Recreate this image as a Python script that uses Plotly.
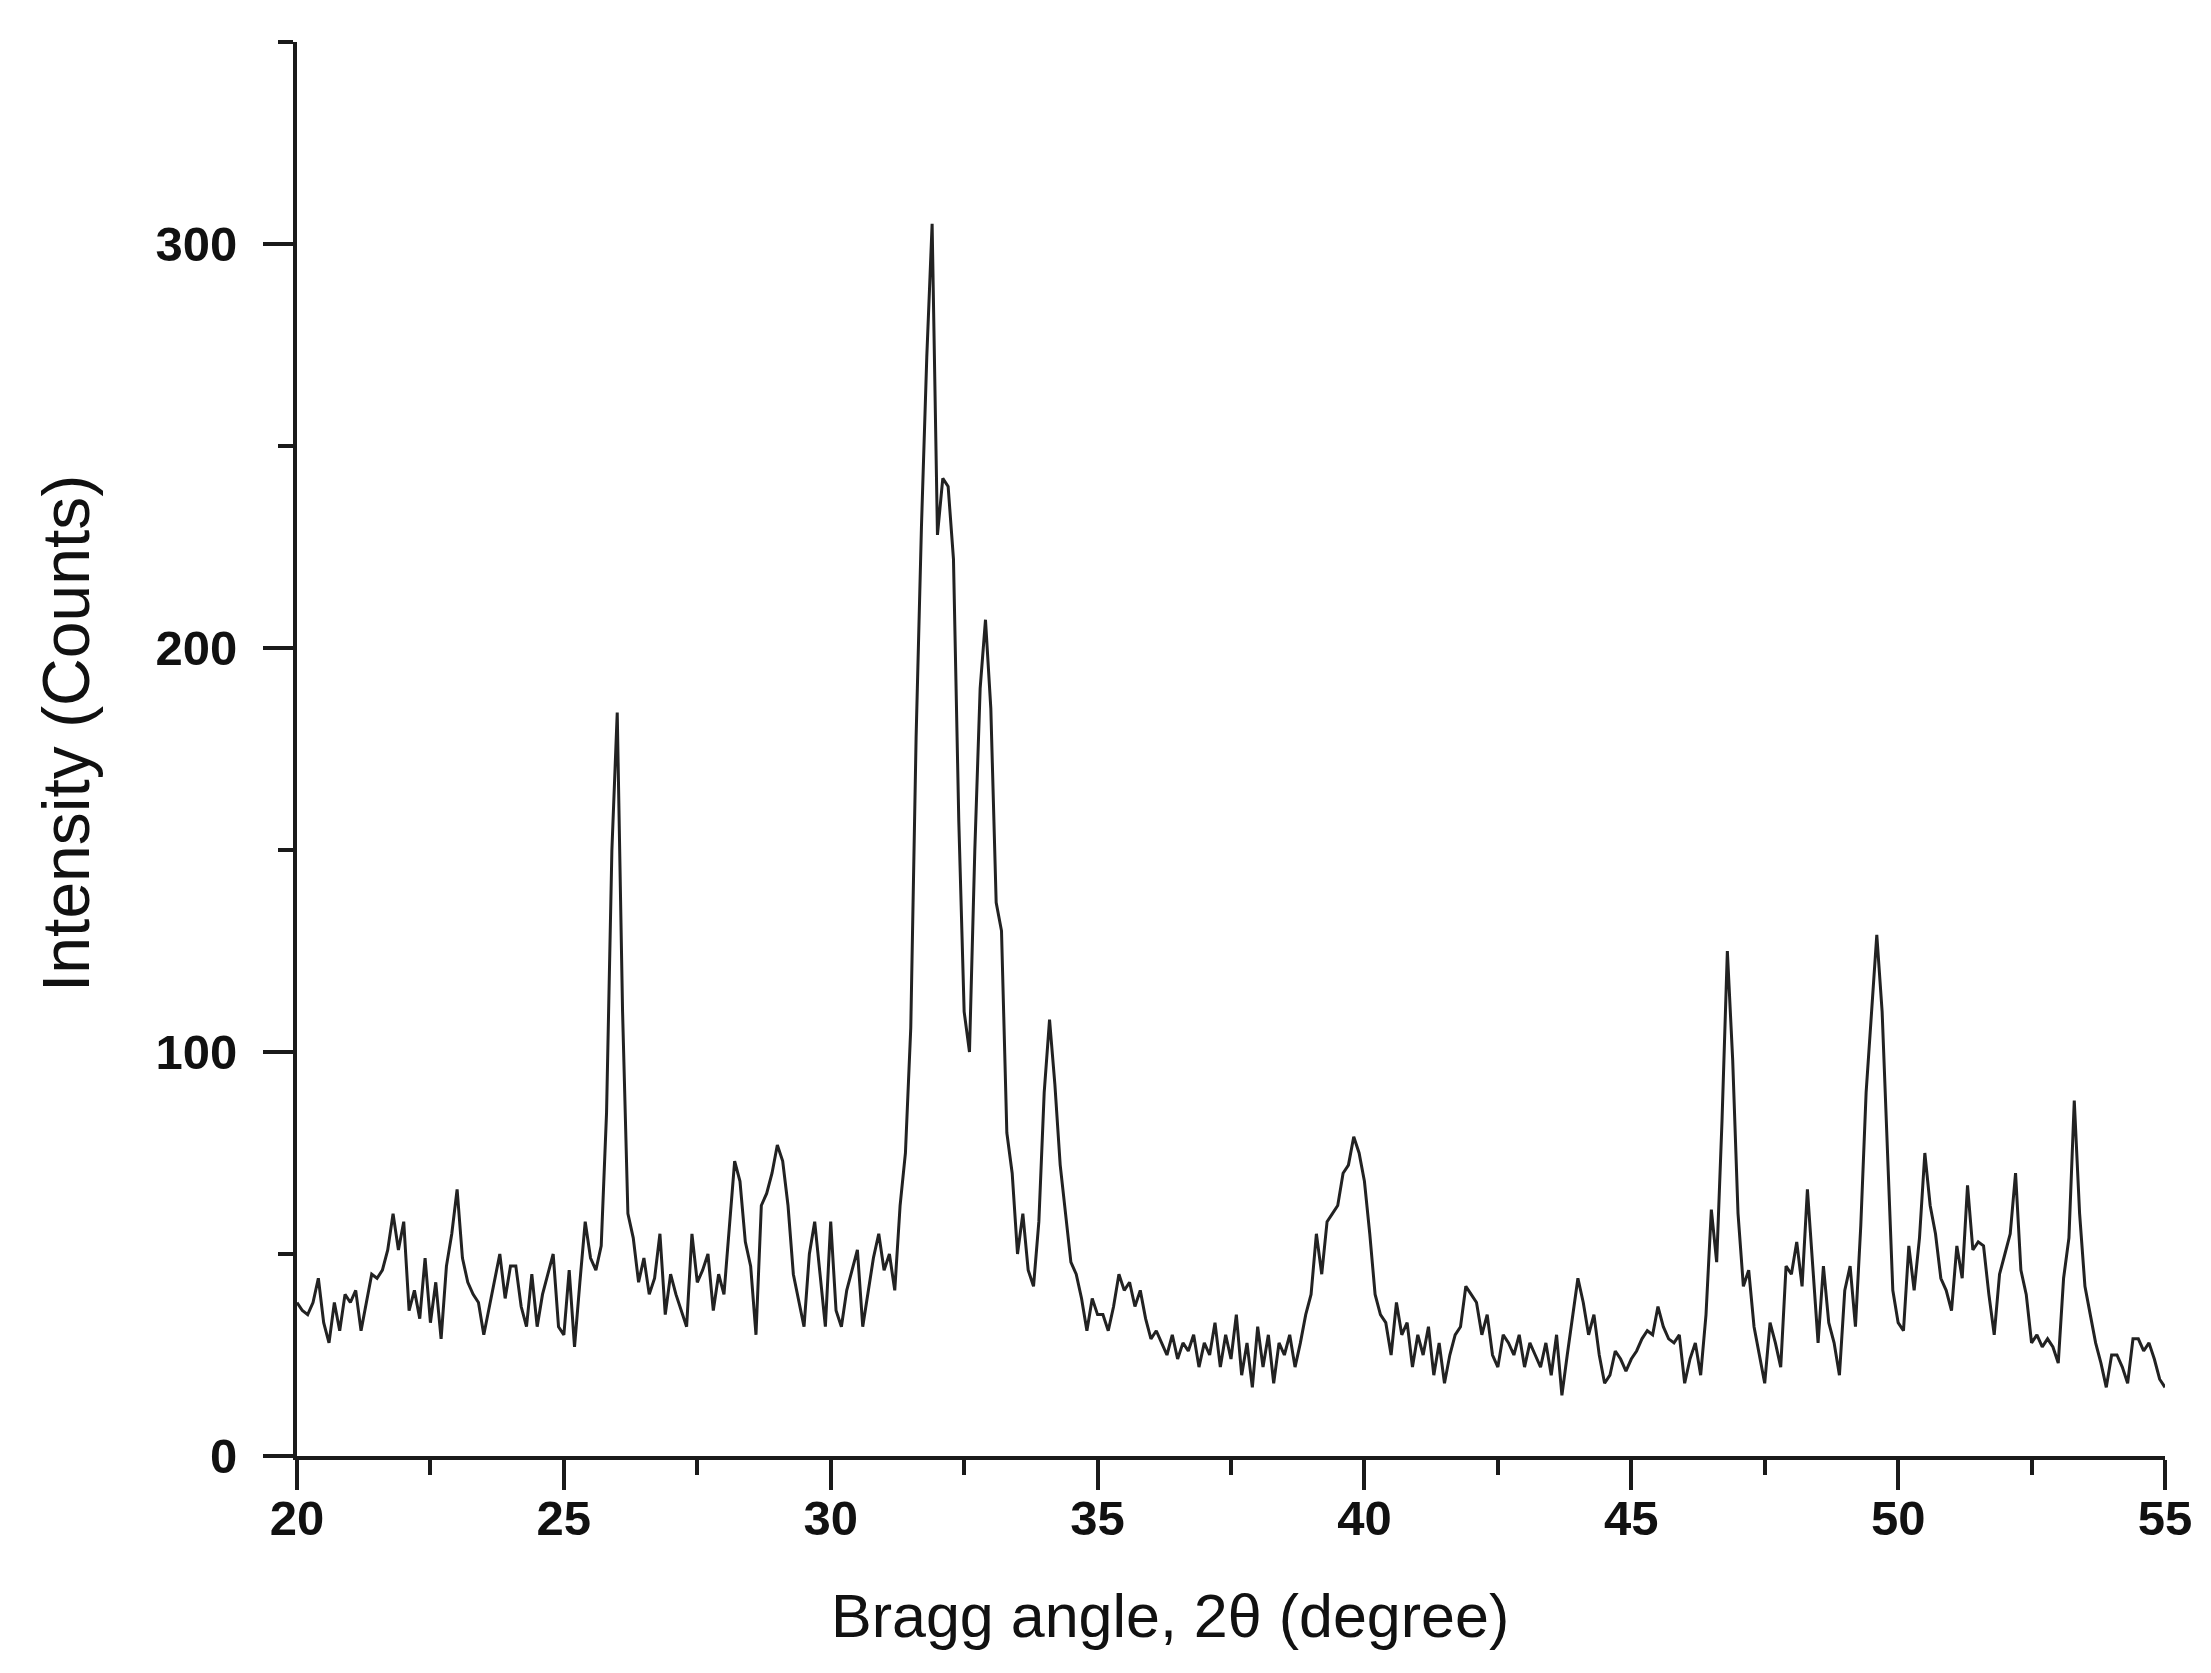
import plotly.graph_objects as go

theta_start = 20.0
theta_step = 0.1
intensity = [
    # 20.0 - 20.9
    38, 36, 35, 38, 44, 33, 28, 38, 31, 40,
    # 21.0 - 21.9
    38, 41, 31, 38, 45, 44, 46, 51, 60, 51,
    # 22.0 - 22.9
    58, 36, 41, 34, 49, 33, 43, 29, 47, 55,
    # 23.0 - 23.9
    66, 49, 43, 40, 38, 30, 37, 44, 50, 39,
    # 24.0 - 24.9
    47, 47, 37, 32, 45, 32, 40, 45, 50, 32,
    # 25.0 - 25.9
    30, 46, 27, 43, 58, 49, 46, 52, 85, 150,
    # 26.0 - 26.9
    184, 110, 60, 54, 43, 49, 40, 44, 55, 35,
    # 27.0 - 27.9
    45, 40, 36, 32, 55, 43, 46, 50, 36, 45,
    # 28.0 - 28.9
    40, 56, 73, 68, 53, 47, 30, 62, 65, 70,
    # 29.0 - 29.9
    77, 73, 62, 45, 38, 32, 50, 58, 45, 32,
    # 30.0 - 30.9
    58, 36, 32, 41, 46, 51, 32, 41, 49, 55,
    # 31.0 - 31.9
    46, 50, 41, 62, 75, 106, 178, 230, 272, 305,
    # 32.0 - 32.9
    228, 242, 240, 222, 157, 110, 100, 150, 190, 207,
    # 33.0 - 33.9
    185, 137, 130, 80, 70, 50, 60, 46, 42, 58,
    # 34.0 - 34.9
    90, 108, 92, 72, 60, 48, 45, 39, 31, 39,
    # 35.0 - 35.9
    35, 35, 31, 37, 45, 41, 43, 37, 41, 34,
    # 36.0 - 36.9
    29, 31, 28, 25, 30, 24, 28, 26, 30, 22,
    # 37.0 - 37.9
    28, 25, 33, 22, 30, 24, 35, 20, 28, 17,
    # 38.0 - 38.9
    32, 22, 30, 18, 28, 25, 30, 22, 28, 35,
    # 39.0 - 39.9
    40, 55, 45, 58, 60, 62, 70, 72, 79, 75,
    # 40.0 - 40.9
    68, 55, 40, 35, 33, 25, 38, 30, 33, 22,
    # 41.0 - 41.9
    30, 25, 32, 20, 28, 18, 25, 30, 32, 42,
    # 42.0 - 42.9
    40, 38, 30, 35, 25, 22, 30, 28, 25, 30,
    # 43.0 - 43.9
    22, 28, 25, 22, 28, 20, 30, 15, 25, 35,
    # 44.0 - 44.9
    44, 38, 30, 35, 25, 18, 20, 26, 24, 21,
    # 45.0 - 45.9
    24, 26, 29, 31, 30, 37, 32, 29, 28, 30,
    # 46.0 - 46.9
    18, 24, 28, 20, 35, 61, 48, 83, 125, 98,
    # 47.0 - 47.9
    60, 42, 46, 32, 25, 18, 33, 28, 22, 47,
    # 48.0 - 48.9
    45, 53, 42, 66, 47, 28, 47, 33, 28, 20,
    # 49.0 - 49.9
    41, 47, 32, 57, 90, 110, 129, 110, 75, 41,
    # 50.0 - 50.9
    33, 31, 52, 41, 54, 75, 62, 55, 44, 41,
    # 51.0 - 51.9
    36, 52, 44, 67, 51, 53, 52, 40, 30, 45,
    # 52.0 - 52.9
    50, 55, 70, 46, 40, 28, 30, 27, 29, 27,
    # 53.0 - 53.9
    23, 44, 54, 88, 60, 42, 35, 28, 23, 17,
    # 54.0 - 54.9
    25, 25, 22, 18, 29, 29, 26, 28, 24, 19,
    # 55.0
    17,
]
two_theta = [round(theta_start + theta_step * i, 2) for i in range(len(intensity))]

x_tick_vals = [20, 25, 30, 35, 40, 45, 50, 55]
y_tick_vals = [0, 100, 200, 300]
x_title = "Bragg angle, 2θ (degree)"
y_title = "Intensity (Counts)"

FONT = "Liberation Sans, Arial, Helvetica, sans-serif"
TICK_FONT = "Liberation Sans Narrow, Arial Narrow, Liberation Sans, Arial, sans-serif"

fig = go.Figure()
fig.add_trace(go.Scatter(
    x=two_theta, y=intensity, mode="lines",
    line=dict(color="#222222", width=3),
    showlegend=False, hoverinfo="x+y",
))

axis_common = dict(
    showline=True, linecolor="#1a1a1a", linewidth=4,
    ticks="outside", ticklen=30, tickwidth=4, tickcolor="#1a1a1a",
    showgrid=False, zeroline=False,
    tickfont=dict(family=TICK_FONT, size=49, color="#111111", weight="bold"),
    mirror=False,
)

fig.update_xaxes(
    **axis_common,
    range=[20, 55], tickvals=x_tick_vals,
    ticktext=[str(v) for v in x_tick_vals],
    minor=dict(ticks="outside", ticklen=15, tickwidth=4, tickcolor="#1a1a1a", dtick=2.5, tick0=20),
    ticklabelstandoff=-14,
)
fig.update_yaxes(
    **axis_common,
    range=[0, 350], tickvals=y_tick_vals,
    ticktext=[str(v) for v in y_tick_vals],
    minor=dict(ticks="outside", ticklen=15, tickwidth=4, tickcolor="#1a1a1a", dtick=50, tick0=0),
    ticklabelstandoff=16,
)

fig.add_annotation(
    text=x_title, xref="paper", yref="paper",
    x=(1162 - 289) / 1868, y=-(1608 - 1448) / 1414,
    xanchor="center", yanchor="middle", showarrow=False,
    font=dict(family=FONT, size=61, color="#111111"),
)
fig.add_annotation(
    text=y_title, xref="paper", yref="paper",
    x=-(289 - 58) / 1868, y=(1448 - 726) / 1414,
    xanchor="center", yanchor="middle", showarrow=False, textangle=-90,
    font=dict(family=FONT, size=66, color="#111111"),
)

fig.update_layout(
    width=2211, height=1673,
    margin=dict(l=289, r=54, t=34, b=225),
    paper_bgcolor="white", plot_bgcolor="white",
)

fig.write_html("out.html")
